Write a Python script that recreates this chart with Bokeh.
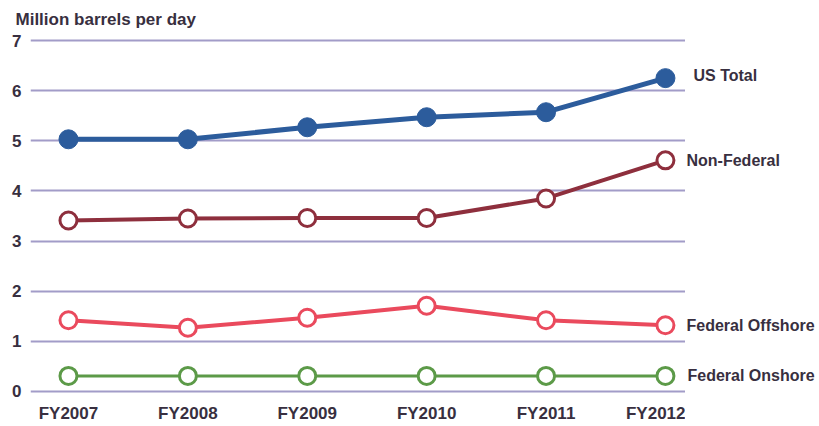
from bokeh.plotting import figure
from bokeh.models import Range1d, FixedTicker, ColumnDataSource
from bokeh.layouts import row
from bokeh.core.properties import value
from bokeh.embed import file_html
from bokeh.resources import INLINE

years = ["FY2007", "FY2008", "FY2009", "FY2010", "FY2011", "FY2012"]
us_total = [5.03, 5.03, 5.27, 5.47, 5.57, 6.25]
non_federal = [3.41, 3.45, 3.46, 3.46, 3.85, 4.61]
federal_offshore = [1.42, 1.27, 1.47, 1.71, 1.42, 1.32]
federal_onshore = [0.31, 0.31, 0.31, 0.31, 0.31, 0.31]
series_names = ["US Total", "Non-Federal", "Federal Offshore", "Federal Onshore"]
y_ticks = [0, 1, 2, 3, 4, 5, 6, 7]

FONT = "Liberation Sans"
TXT = "#382f40"

xs = list(range(len(years)))
y_range = Range1d(-0.2, 7.2)

p = figure(width=685, height=426, output_backend="svg", toolbar_location=None,
           x_range=Range1d(-0.318, 5.168), y_range=y_range,
           min_border_left=30, min_border_right=0, min_border_top=30, min_border_bottom=25,
           title="Million barrels per day")
p.outline_line_color = None
p.title.text_font = FONT
p.title.text_font_style = "bold"
p.title.text_font_size = "17px"
p.title.text_color = TXT
p.title.align = "left"
p.title.offset = -15
p.title.standoff = 4

p.xgrid.grid_line_color = None
p.ygrid.grid_line_color = "#a29cc8"
p.ygrid.grid_line_width = 2
p.ygrid.ticker = FixedTicker(ticks=y_ticks)

p.yaxis.ticker = FixedTicker(ticks=y_ticks)
p.xaxis.ticker = FixedTicker(ticks=xs)
p.xaxis.major_label_overrides = {i: y for i, y in enumerate(years)}
for ax in (p.xaxis, p.yaxis):
    ax.axis_line_color = None
    ax.major_tick_line_color = None
    ax.minor_tick_line_color = None
    ax.major_tick_out = 0
    ax.major_tick_in = 0
    ax.minor_tick_out = 0
    ax.minor_tick_in = 0
    ax.major_label_text_font = FONT
    ax.major_label_text_font_style = "bold"
    ax.major_label_text_color = TXT
    ax.major_label_text_font_size = "17px"
p.xaxis.major_label_standoff = 2
p.yaxis.major_label_standoff = 9

colors = ["#2c5c9c", "#8e2f3d", "#ea4a5d", "#5c9a48"]
all_series = [us_total, non_federal, federal_offshore, federal_onshore]
for i, (vals, col) in enumerate(zip(all_series, colors)):
    if i == 0:
        p.line(xs, vals, line_color=col, line_width=5)
        p.scatter(xs, vals, size=19, marker="circle", fill_color=col, line_color=col)
    else:
        p.line(xs, vals, line_color=col, line_width=4 if i < 3 else 3)
        p.scatter(xs, vals, size=17, marker="circle", fill_color="white", line_color=col, line_width=3)

# right-hand series labels, in a panel sharing the y scale
p2 = figure(width=134, height=426, output_backend="svg", toolbar_location=None,
            x_range=Range1d(0, 1), y_range=y_range, x_axis_type=None, y_axis_type=None,
            min_border_left=0, min_border_right=0, min_border_top=30, min_border_bottom=25)
p2.outline_line_color = None
src = ColumnDataSource(dict(
    x=[0, 0, 0, 0],
    y=[s[-1] for s in all_series],
    text=series_names,
    xo=[8, 1, 1, 2],
    yo=[-3, 0, 0, 0],
))
p2.text(x="x", y="y", text="text", x_offset="xo", y_offset="yo", source=src,
        text_font=value(FONT), text_font_style="bold", text_font_size="16px",
        text_color=TXT, text_baseline="middle", text_align="left")

layout = row(p, p2, spacing=0)
open("out.html", "w").write(file_html(layout, INLINE))
